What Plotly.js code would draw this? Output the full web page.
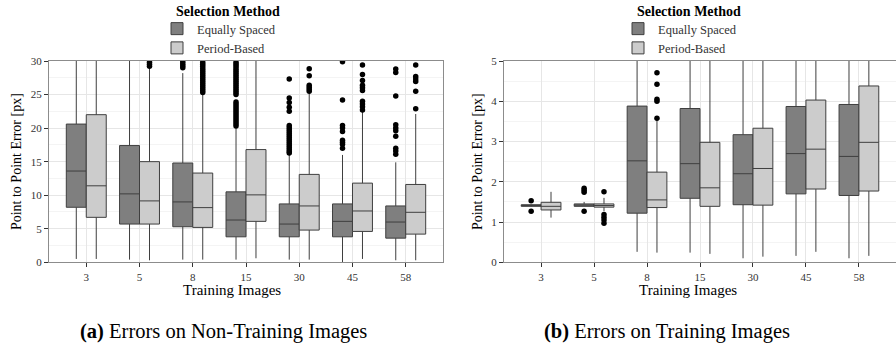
<!DOCTYPE html>
<html>
<head>
<meta charset="utf-8">
<script src="https://cdn.plot.ly/plotly-3.0.1.min.js"></script>
<style>html,body{margin:0;padding:0;background:#fff}#chart{width:896px;height:348px}</style>
</head>
<body>
<div id="chart"></div>
<script>
// ---------- data ----------
const categories = ['3','5','8','15','30','45','58'];
const seriesNames = ['Equally Spaced','Period-Based'];

// (a) Errors on Non-Training Images
const aEqQ1  = [8.2, 5.7, 5.3, 3.8, 3.8, 3.8, 3.6];
const aEqMed = [13.6,10.2, 9.0, 6.3, 5.7, 6.1, 6.0];
const aEqQ3  = [20.6,17.4,14.8,10.5, 8.7, 8.7, 8.4];
const aEqLo  = [0.5, 0.4, 0.4, 0.4, 0.4, 0.0, 0.3];
const aEqHi  = [36, 36, 28.2, 20.0, 16.0, 16.0, 14.9];
const aEqOut = [
  [], [], [29.0,29.3,29.6,29.9],
  [20.3,20.6,20.9,21.2,21.5,21.8,22.1,22.4,22.7,23.0,23.3,23.6,23.9,25.0,25.3,25.6,25.9,26.2,26.5,26.8,27.1,27.4,27.7,28.0,28.3,28.6,28.9,29.2,29.5,29.8],
  [27.3,24.5,23.8,23.1,22.5,20.4,20.1,19.8,19.5,19.2,18.9,18.6,18.3,18.0,17.7,17.4,17.1,16.8,16.5,16.3],
  [29.9,24.2,20.4,20.0,19.5,18.2,17.9,17.6,17.0],
  [28.8,28.3,24.8,20.5,20.0,19.6,18.8,17.0,16.6,16.1]
];
const aPbQ1  = [6.7, 5.7, 5.2, 6.1, 4.8, 4.6, 4.2];
const aPbMed = [11.4, 9.15,8.15,10.05,8.4, 7.65,7.45];
const aPbQ3  = [22.0,15.0,13.3,16.8,13.1,11.8,11.6];
const aPbLo  = [0.5, 0.3, 0.4, 0.6, 0.4, 0.5, 0.3];
const aPbHi  = [36, 29.0, 25.0, 36, 25.2, 22.4, 22.1];
const aPbOut = [
  [], [29.2,29.5,29.8],
  [25.3,25.6,25.9,26.2,26.5,26.8,27.1,27.4,27.7,28.0,28.3,28.6,28.9,29.2,29.5,29.8],
  [], [28.85,27.8,26.4,26.1,25.8,25.5],
  [29.4,28.0,27.1,26.4,26.0,25.6,24.0,23.6,23.2,22.7],
  [29.4,27.7,27.3,26.95,25.5,22.9]
];

// (b) Errors on Training Images
const bEqQ1  = [1.39,1.39,1.22,1.59,1.43,1.70,1.66];
const bEqMed = [1.41,1.42,2.52,2.45,2.20,2.70,2.63];
const bEqQ3  = [1.43,1.45,3.88,3.82,3.17,3.87,3.92];
const bEqLo  = [1.38,1.39,0.26,0.24,0.10,0.16,0.10];
const bEqHi  = [1.44,1.50,6,6,6,6,6];
const bEqOut = [[1.53,1.27],[1.84,1.79,1.74,1.27],[],[],[],[],[]];
const bPbQ1  = [1.30,1.37,1.36,1.39,1.42,1.82,1.77];
const bPbMed = [1.39,1.41,1.55,1.85,2.33,2.81,2.98];
const bPbQ3  = [1.49,1.45,2.24,2.98,3.33,4.03,4.38];
const bPbLo  = [1.11,1.27,0.24,0.21,0.14,0.26,0.16];
const bPbHi  = [1.75,1.60,3.55,6,6,6,6];
const bPbOut = [[],[1.75,1.19,1.12,1.05,0.97],[3.58,4.0,4.05,4.42,4.71],[],[],[],[]];

// ---------- styling ----------
const FONT = '"Liberation Serif", "DejaVu Serif", serif';
const fills = ['#7f7f7f','#cccccc'];
const lineCol = '#3f3f3f';
const idx = categories.map((c,i)=>i);
const BW = 0.375;           // width of one box (dodge 0.75 total)
const off = [-BW/2, BW/2];  // dodge offsets

function boxTrace(name, q1, med, q3, lo, hi, k, xa, ya, legend){
  return {type:'box', name:name, x:idx.map(i=>i+off[k]), q1:q1, median:med, q3:q3,
    lowerfence:lo, upperfence:hi, width:BW, xaxis:xa, yaxis:ya, legend:legend,
    fillcolor:fills[k], line:{color:lineCol, width:1}, whiskerwidth:0,
    boxpoints:false, showlegend:true, hoverinfo:'skip'};
}
function outTrace(out, k, xa, ya){
  const xs=[], ys=[];
  out.forEach((arr,i)=>arr.forEach(v=>{xs.push(i + off[k]); ys.push(v);}));
  return {type:'scatter', mode:'markers', x:xs, y:ys, xaxis:xa, yaxis:ya,
    marker:{color:'#000', size:5.5}, showlegend:false, cliponaxis:true, hoverinfo:'skip'};
}

const data = [
  boxTrace(seriesNames[0], aEqQ1,aEqMed,aEqQ3,aEqLo,aEqHi,0,'x','y','legend'),
  boxTrace(seriesNames[1], aPbQ1,aPbMed,aPbQ3,aPbLo,aPbHi,1,'x','y','legend'),
  boxTrace(seriesNames[0], bEqQ1,bEqMed,bEqQ3,bEqLo,bEqHi,0,'x2','y2','legend2'),
  boxTrace(seriesNames[1], bPbQ1,bPbMed,bPbQ3,bPbLo,bPbHi,1,'x2','y2','legend2'),
  outTrace(aEqOut,0,'x','y'), outTrace(aPbOut,1,'x','y'),
  outTrace(bEqOut,0,'x2','y2'), outTrace(bPbOut,1,'x2','y2')
];

const H = 348, W = 896;
const yDom = [1-262.3/H, 1-61/H];
function xAxis(dom, anchor){
  return {domain:dom, anchor:anchor, range:[-0.7,6.7], tickmode:'array', tickvals:idx, ticktext:categories,
    showgrid:true, gridcolor:'#e6e6e6', gridwidth:1, zeroline:false,
    showline:true, linecolor:'#8c8c8c', linewidth:1, mirror:true,
    ticks:'outside', ticklen:4, tickcolor:'#333', tickfont:{family:FONT,size:11,color:'#333'}};
}
function yAxis(range, dtick, anchor){
  return {domain:yDom, range:range, dtick:dtick, anchor:anchor, showgrid:true, gridcolor:'#e6e6e6',
    minor:{dtick:dtick/2, showgrid:true, gridcolor:'#f4f4f4', ticks:''},
    zeroline:false, showline:true, linecolor:'#8c8c8c', linewidth:1, mirror:true,
    ticks:'outside', ticklen:4, tickcolor:'#333', tickfont:{family:FONT,size:11,color:'#333'},
    title:{text:'Point to Point Error [px]', font:{family:FONT,size:14,color:'#000'}, standoff:5}};
}
function legendObj(x){
  return {x:x, y:1-14/H, xanchor:'left', yanchor:'top', bgcolor:'rgba(0,0,0,0)',
    font:{family:FONT,size:12.5,color:'#333'}, tracegroupgap:0, itemwidth:30};
}
function ann(text, x, y, size, extra){
  return Object.assign({xref:'paper', yref:'paper', x:x/W, y:1-y/H, xanchor:'center', yanchor:'middle',
    showarrow:false, text:text, font:{family:FONT,size:size,color:'#000'}}, extra||{});
}

const layout = {
  width:W, height:H, margin:{l:0,r:0,t:0,b:0},
  paper_bgcolor:'#fff', plot_bgcolor:'#fff',
  boxmode:'overlay',
  xaxis: xAxis([49/W, 443/W], 'y'),
  yaxis: yAxis([0,30],5,'x'),
  xaxis2: xAxis([504/W, 1], 'y2'),
  yaxis2: yAxis([0,5],1,'x2'),
  legend: legendObj(157/W),
  legend2: legendObj((157+461)/W),
  annotations:[
    ann('<b>Selection Method</b>', 174, 11, 14, {xanchor:'left'}),
    ann('<b>Selection Method</b>', 635, 11, 14, {xanchor:'left'}),
    ann('Training Images', 232, 290, 15),
    ann('Training Images', 688, 290, 15),
    ann('<b>(a)</b> Errors on Non-Training Images', 223, 331, 20.5),
    ann('<b>(b)</b> Errors on Training Images', 667, 331, 20.5)
  ]
};

Plotly.newPlot('chart', data, layout, {displayModeBar:false, staticPlot:true});
</script>
</body>
</html>
